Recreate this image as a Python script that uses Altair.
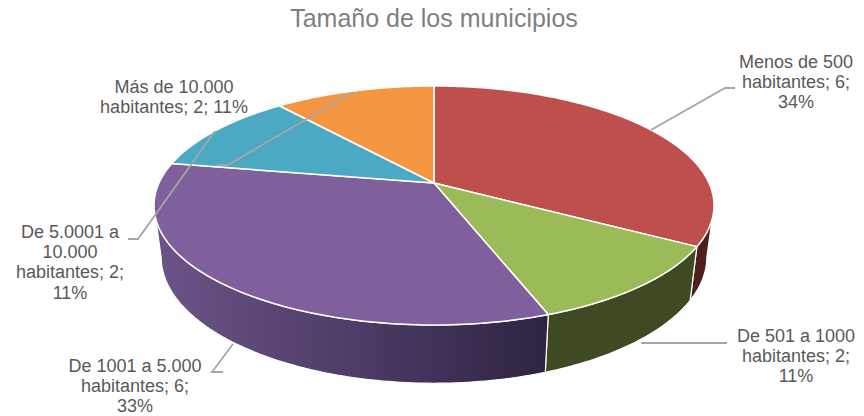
import math
import altair as alt
import pandas as pd

TITLE = "Tamaño de los municipios"
CATEGORIES = ["Menos de 500 habitantes", "De 501 a 1000 habitantes", "De 1001 a 5.000 habitantes",
              "De 5.0001 a 10.000 habitantes", "Más de 10.000 habitantes"]
VALUES = [6, 2, 6, 2, 2]
TOP_COLORS = ["#BE4F4C", "#9BBB59", "#7F5F9C", "#4BA9C4", "#F59642"]
LABELS = [
    ["Menos de 500", "habitantes; 6;", "34%"],
    ["De 501 a 1000", "habitantes; 2;", "11%"],
    ["De 1001 a 5.000", "habitantes; 6;", "33%"],
    ["De 5.0001 a", "10.000", "habitantes; 2;", "11%"],
    ["Más de 10.000", "habitantes; 2; 11%"],
]

# layout (screen pixels)
LABEL_ANCHORS = [(796, 62.5), (796, 337), (135, 367), (70, 233), (174, 88)]
LEADERS = [
    [(735, 88), (725, 88), (651, 130)],
    [(727, 343), (641, 343)],
    [(223, 372), (212, 372), (233, 344)],
    [(128, 239), (138, 239), (215, 131)],
    [(217, 165), (228, 165), (353, 92)],
]
CX = 434
TOP = dict(cy=183, a=275, b=115.3, k=0.188)
BOT = dict(cy=233, a=268, b=122, k=0.188)
SIL_R, SIL_L = 101, 259

X = alt.X("x:Q", scale=alt.Scale(domain=[8, 856], range=[0, 848], nice=False, zero=False), axis=None)
Y = alt.Y("y:Q", scale=alt.Scale(domain=[416, 8], range=[408, 0], nice=False, zero=False), axis=None)


def rim(deg, p):
    t = math.radians(deg)
    w = 1 + p["k"] * math.cos(t)
    return CX + p["a"] * math.sin(t) / w, p["cy"] - p["b"] * math.cos(t) / w


def arc(a, b, p):
    n = max(2, int(abs(b - a)) + 1)
    return [rim(a + (b - a) * i / (n - 1), p) for i in range(n)]


def poly(pts, fill, stroke="white", sw=1.5):
    pts = list(pts) + [pts[0]]
    df = pd.DataFrame({"x": [q[0] for q in pts], "y": [q[1] for q in pts], "i": range(len(pts))})
    return alt.Chart(df).mark_line(fill=fill, stroke=stroke, strokeWidth=sw, strokeJoin="round").encode(
        x=X, y=Y, order="i:Q")


total = sum(VALUES)
edges = [0]
for v in VALUES:
    edges.append(edges[-1] + 360 * v / total)

layers = []
# sides
side_spec = [
    (SIL_R, edges[1], "#4F1E1D"),
    (edges[1], edges[2], "#3E4A22"),
    (edges[2], SIL_L, alt.Gradient(gradient="linear", x1=1, x2=0, y1=0, y2=0, stops=[
        alt.GradientStop(offset=0, color="#2E2340"),
        alt.GradientStop(offset=0.5, color="#4E3D68"),
        alt.GradientStop(offset=1, color="#6C5489"),
    ])),
]
for a, b, fill in side_spec:
    layers.append(poly(arc(a, b, TOP) + arc(b, a, BOT), fill, sw=1.2))

# top
for i, col in enumerate(TOP_COLORS):
    pts = [(CX, TOP["cy"])] + arc(edges[i], edges[i + 1], TOP)
    layers.append(poly(pts, col))

# leaders
for pts in LEADERS:
    df = pd.DataFrame({"x": [q[0] for q in pts], "y": [q[1] for q in pts], "i": range(len(pts))})
    layers.append(alt.Chart(df).mark_line(color="#A6A6A6", strokeWidth=1.8).encode(x=X, y=Y, order="i:Q"))

# labels
rows = []
for lines, (lx, ly) in zip(LABELS, LABEL_ANCHORS):
    for j, t in enumerate(lines):
        rows.append({"x": lx, "y": ly + j * 20.2, "t": t})
layers.append(alt.Chart(pd.DataFrame(rows)).mark_text(
    font="Liberation Sans", fontSize=18, color="#595959", align="center", baseline="middle").encode(
    x=X, y=Y, text="t:N"))

layers.append(alt.Chart(pd.DataFrame({"x": [434], "y": [18.5], "t": [TITLE]})).mark_text(
    font="Liberation Sans", fontSize=25, color="#7F7F7F", align="center", baseline="middle").encode(
    x=X, y=Y, text="t:N"))

chart = alt.layer(*layers).properties(
    width=848, height=408, padding=0, autosize=alt.AutoSizeParams(type="none")
).configure_view(stroke=None)

chart.save("out.html", embed_options={"renderer": "svg", "actions": False})
